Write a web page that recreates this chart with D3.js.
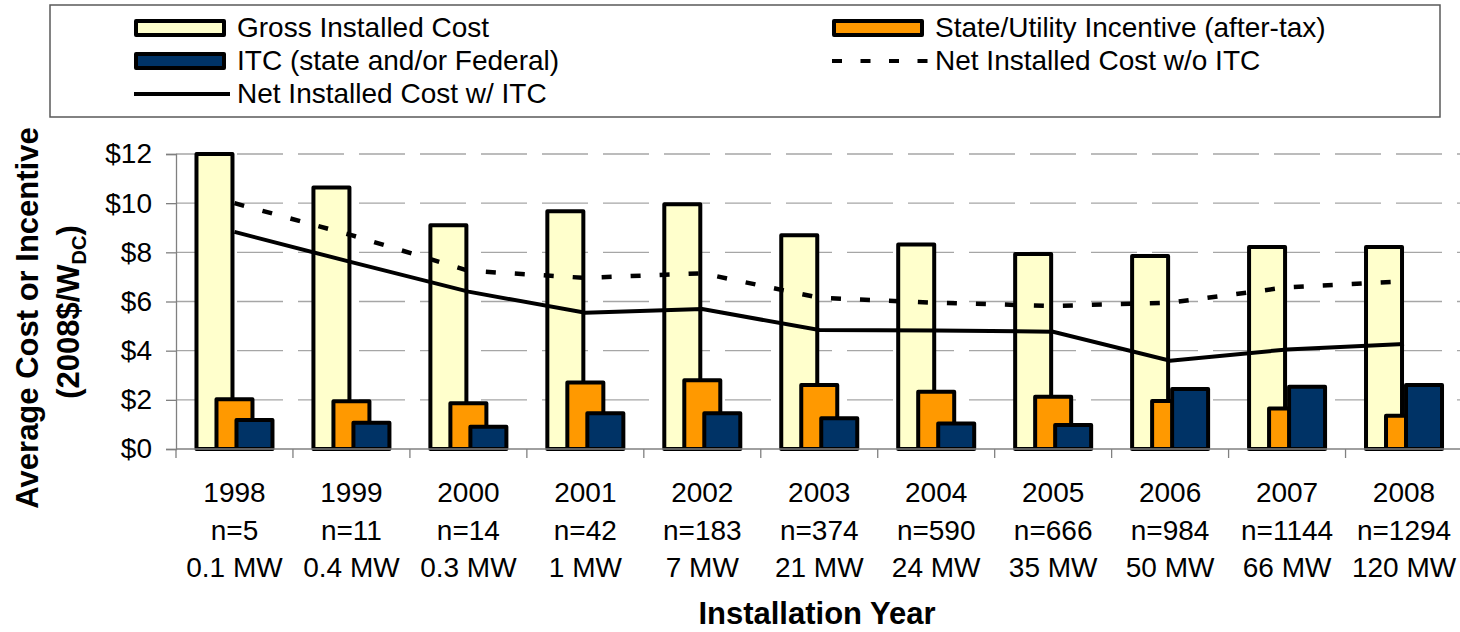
<!DOCTYPE html>
<html>
<head>
<meta charset="utf-8">
<script src="https://cdn.jsdelivr.net/npm/d3@7"></script>
<style>
  body { margin: 0; background: #fff; }
  svg { display: block; font-family: "Liberation Sans", Arial, sans-serif; }
</style>
</head>
<body>
<svg id="chart" width="1460" height="632"></svg>
<script>
// chart values
const years = ["1998","1999","2000","2001","2002","2003","2004","2005","2006","2007","2008"];
const counts = ["n=5","n=11","n=14","n=42","n=183","n=374","n=590","n=666","n=984","n=1144","n=1294"];
const capacity = ["0.1 MW","0.4 MW","0.3 MW","1 MW","7 MW","21 MW","24 MW","35 MW","50 MW","66 MW","120 MW"];
const grossCost = [12.0, 10.64, 9.1, 9.67, 9.96, 8.7, 8.32, 7.93, 7.85, 8.22, 8.22];
const stateIncentive = [2.02, 1.94, 1.86, 2.71, 2.8, 2.6, 2.33, 2.13, 1.95, 1.65, 1.35];
const itc = [1.18, 1.07, 0.91, 1.45, 1.45, 1.25, 1.04, 0.98, 2.44, 2.53, 2.6];
const netNoItc = [10.0, 8.7, 7.25, 6.96, 7.15, 6.15, 5.95, 5.82, 5.95, 6.58, 6.82];
const netWithItc = [8.83, 7.6, 6.4, 5.54, 5.69, 4.84, 4.82, 4.77, 3.59, 4.05, 4.27];
const yTicks = [0, 2, 4, 6, 8, 10, 12];

const svg = d3.select("#chart");
const plotL = 176, plotR = 1462.5, plotT = 154, plotB = 449;

const x = d3.scaleBand().domain(years).range([plotL, plotR]).padding(0);
const y = d3.scaleLinear().domain([0, 12]).range([plotB, plotT]);

const barW = 36, step = 20;

// gridlines
svg.append("g")
  .selectAll("line")
  .data(yTicks.filter(d => d > 0))
  .enter().append("line")
  .attr("x1", plotL).attr("x2", plotR)
  .attr("y1", d => y(d)).attr("y2", d => y(d))
  .attr("stroke", "#a6a6a6")
  .attr("stroke-width", 1.3)
  .attr("stroke-dasharray", "46,15");

// y axis
const yAxis = d3.axisLeft(y).tickValues(yTicks).tickFormat(d => "$" + d).tickSize(10).tickPadding(14);
const gy = svg.append("g").attr("transform", "translate(" + plotL + ",0)").call(yAxis);
gy.select(".domain").attr("stroke", "#808080").attr("stroke-width", 1.3);
gy.selectAll(".tick line").attr("stroke", "#808080").attr("stroke-width", 1.3);
gy.selectAll(".tick text").attr("font-size", 28).attr("fill", "#000")
  .attr("font-family", "'Liberation Sans', Arial, sans-serif");

// bars
const series = [
  {vals: grossCost, color: "#ffffcc", off: -step},
  {vals: stateIncentive, color: "#ff9900", off: 0},
  {vals: itc, color: "#003366", off: step}
];
series.forEach(s => {
  svg.append("g")
    .selectAll("rect")
    .data(years)
    .enter().append("rect")
    .attr("x", (d) => x(d) + x.bandwidth() / 2 + s.off - barW / 2)
    .attr("y", (d, i) => y(s.vals[i]))
    .attr("width", barW)
    .attr("height", (d, i) => y(0) - y(s.vals[i]))
    .attr("fill", s.color)
    .attr("stroke", "#000")
    .attr("stroke-width", 4)
    .attr("stroke-linejoin", "round");
});

// x axis
const gx = svg.append("g").attr("transform", "translate(0," + plotB + ")");
gx.append("line").attr("x1", plotL).attr("x2", plotR).attr("stroke", "#808080").attr("stroke-width", 1.3);
gx.selectAll(".tk")
  .data(d3.range(years.length + 1))
  .enter().append("line")
  .attr("x1", i => plotL + i * x.bandwidth()).attr("x2", i => plotL + i * x.bandwidth())
  .attr("y1", 0).attr("y2", 9)
  .attr("stroke", "#808080").attr("stroke-width", 1.3);

const labels = svg.append("g")
  .selectAll("text")
  .data(years)
  .enter().append("text")
  .attr("text-anchor", "middle")
  .attr("font-size", 28)
  .attr("fill", "#000");
[years, counts, capacity].forEach((arr, k) => {
  labels.append("tspan")
    .attr("x", d => x(d) + x.bandwidth() / 2)
    .attr("y", 502 + k * 37.5)
    .text((d, i) => arr[i]);
});

// lines
const line = vals => d3.line()
  .x(d => x(d) + x.bandwidth() / 2)
  .y((d, i) => y(vals[i]))(years);

svg.append("path")
  .attr("d", line(netNoItc))
  .attr("fill", "none").attr("stroke", "#000").attr("stroke-width", 4.5)
  .attr("stroke-dasharray", "10,19");
svg.append("path")
  .attr("d", line(netWithItc))
  .attr("fill", "none").attr("stroke", "#000").attr("stroke-width", 4);

// axis titles
svg.append("text")
  .attr("x", 817).attr("y", 624)
  .attr("text-anchor", "middle")
  .attr("font-size", 31).attr("font-weight", "bold")
  .text("Installation Year");

svg.append("text")
  .attr("transform", "translate(38,318) rotate(-90)")
  .attr("text-anchor", "middle")
  .attr("font-size", 31).attr("font-weight", "bold")
  .text("Average Cost or Incentive");
const t2 = svg.append("text")
  .attr("transform", "translate(79,312) rotate(-90)")
  .attr("text-anchor", "middle")
  .attr("font-size", 31).attr("font-weight", "bold");
t2.append("tspan").text("(2008$/W");
t2.append("tspan").attr("font-size", 20).attr("dy", 7).text("DC");
t2.append("tspan").attr("dy", -7).text(")");

// legend
const lg = svg.append("g");
lg.append("rect")
  .attr("x", 50).attr("y", 5).attr("width", 1390).attr("height", 112)
  .attr("fill", "#fff").attr("stroke", "#595959").attr("stroke-width", 1.5);

const legendItems = [
  {label: "Gross Installed Cost", type: "rect", color: "#ffffcc", sx: 136, row: 0},
  {label: "State/Utility Incentive (after-tax)", type: "rect", color: "#ff9900", sx: 834, row: 0},
  {label: "ITC (state and/or Federal)", type: "rect", color: "#003366", sx: 136, row: 1},
  {label: "Net Installed Cost w/o ITC", type: "dash", sx: 834, row: 1},
  {label: "Net Installed Cost w/ ITC", type: "line", sx: 136, row: 2}
];
const rowY = [28, 61, 94];
legendItems.forEach(it => {
  const cy = rowY[it.row];
  if (it.type === "rect") {
    lg.append("rect")
      .attr("x", it.sx).attr("y", cy - 7).attr("width", 88).attr("height", 14)
      .attr("fill", it.color).attr("stroke", "#000").attr("stroke-width", 4)
      .attr("stroke-linejoin", "round");
  } else {
    lg.append("line")
      .attr("x1", it.sx - 2).attr("x2", it.sx + 94)
      .attr("y1", cy).attr("y2", cy)
      .attr("stroke", "#000").attr("stroke-width", 4)
      .attr("stroke-dasharray", it.type === "dash" ? "10,18.5" : null);
  }
  lg.append("text")
    .attr("x", it.sx + 101).attr("y", cy + 9)
    .attr("font-size", 28)
    .text(it.label);
});
</script>
</body>
</html>
